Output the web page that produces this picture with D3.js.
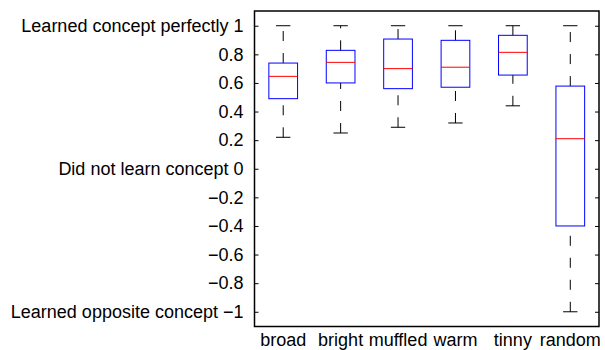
<!DOCTYPE html>
<html>
<head>
<meta charset="utf-8">
<script src="https://cdn.jsdelivr.net/npm/d3@7"></script>
<style>
  body { margin: 0; background: #fff; }
  text { font-family: "Liberation Sans", Arial, Helvetica, sans-serif; }
</style>
</head>
<body>
<div id="chart"></div>
<script>
// boxplot stats
const categories = ['broad', 'bright', 'muffled', 'warm', 'tinny', 'random'];
const whiskerLow = [0.22, 0.25, 0.29, 0.32, 0.44, -1.0];
const q1 = [0.49, 0.60, 0.56, 0.57, 0.655, -0.40];
const medians = [0.646, 0.744, 0.70, 0.71, 0.814, 0.21];
const q3 = [0.739, 0.828, 0.907, 0.898, 0.933, 0.578];
const whiskerHigh = [1.0, 1.0, 1.0, 1.0, 1.0, 1.0];

const yTicks = [1, 0.8, 0.6, 0.4, 0.2, 0, -0.2, -0.4, -0.6, -0.8, -1];
const yTickLabels = ['Learned concept perfectly 1', '0.8', '0.6', '0.4', '0.2',
  'Did not learn concept 0', '\u22120.2', '\u22120.4', '\u22120.6', '\u22120.8',
  'Learned opposite concept \u22121'];

const width = 605, height = 350;
const axLeft = 254.5, axRight = 599, axTop = 11, axBottom = 326.5;

const svg = d3.select('#chart').append('svg')
  .attr('width', width)
  .attr('height', height);

const x = d3.scaleLinear().domain([0.5, 6.5]).range([axLeft, axRight]);
const y = d3.scaleLinear().domain([-1.103, 1.103]).range([axBottom, axTop]);

const boxW = x(1.25) - x(1);   // half box width
const capW = x(1.125) - x(1);  // half cap width

const data = categories.map((c, i) => ({
  name: c, pos: i + 1,
  lo: whiskerLow[i], q1: q1[i], med: medians[i], q3: q3[i], hi: whiskerHigh[i]
}));

const g = svg.append('g');

// whiskers (dashed)
g.selectAll('.wu').data(data).enter().append('line')
  .attr('x1', d => x(d.pos)).attr('x2', d => x(d.pos))
  .attr('y1', d => y(d.q3)).attr('y2', d => y(d.hi))
  .attr('stroke', '#000').attr('stroke-width', 1)
  .attr('stroke-dasharray', '10,12');
g.selectAll('.wl').data(data).enter().append('line')
  .attr('x1', d => x(d.pos)).attr('x2', d => x(d.pos))
  .attr('y1', d => y(d.lo)).attr('y2', d => y(d.q1))
  .attr('stroke', '#000').attr('stroke-width', 1)
  .attr('stroke-dasharray', '10,12');

// caps
['hi', 'lo'].forEach(k => {
  g.selectAll('.cap-' + k).data(data).enter().append('line')
    .attr('x1', d => x(d.pos) - capW).attr('x2', d => x(d.pos) + capW)
    .attr('y1', d => y(d[k])).attr('y2', d => y(d[k]))
    .attr('stroke', '#000').attr('stroke-width', 1);
});

// boxes
g.selectAll('.box').data(data).enter().append('rect')
  .attr('x', d => x(d.pos) - boxW)
  .attr('width', boxW * 2)
  .attr('y', d => y(d.q3))
  .attr('height', d => y(d.q1) - y(d.q3))
  .attr('fill', 'none')
  .attr('stroke', '#0000ff').attr('stroke-width', 1);

// medians
g.selectAll('.med').data(data).enter().append('line')
  .attr('x1', d => x(d.pos) - boxW).attr('x2', d => x(d.pos) + boxW)
  .attr('y1', d => y(d.med)).attr('y2', d => y(d.med))
  .attr('stroke', '#ff0000').attr('stroke-width', 1);

// axes frame
svg.append('rect')
  .attr('x', axLeft).attr('y', axTop)
  .attr('width', axRight - axLeft).attr('height', axBottom - axTop)
  .attr('fill', 'none').attr('stroke', '#000').attr('stroke-width', 1.5);

// y ticks, inward on both sides
const yAxisL = d3.axisLeft(y).tickValues(yTicks).tickSizeInner(-4).tickSizeOuter(0)
  .tickPadding(11).tickFormat((d, i) => yTickLabels[i]);
const gl = svg.append('g').attr('transform', `translate(${axLeft},0)`).call(yAxisL);
gl.select('.domain').remove();
gl.selectAll('.tick line').attr('stroke', '#000');
gl.selectAll('.tick text').attr('font-size', 18).attr('fill', '#000')
  .attr('font-family', '"Liberation Sans", Arial, sans-serif');

const yAxisR = d3.axisRight(y).tickValues(yTicks).tickSizeInner(-4).tickSizeOuter(0)
  .tickFormat('');
const gr = svg.append('g').attr('transform', `translate(${axRight},0)`).call(yAxisR);
gr.select('.domain').remove();
gr.selectAll('.tick line').attr('stroke', '#000');

// category labels under the axes
svg.selectAll('.xlab').data(data).enter().append('text')
  .attr('x', d => x(d.pos))
  .attr('y', 346)
  .attr('text-anchor', 'middle')
  .attr('font-size', 18)
  .attr('fill', '#000')
  .text(d => d.name);
</script>
</body>
</html>
